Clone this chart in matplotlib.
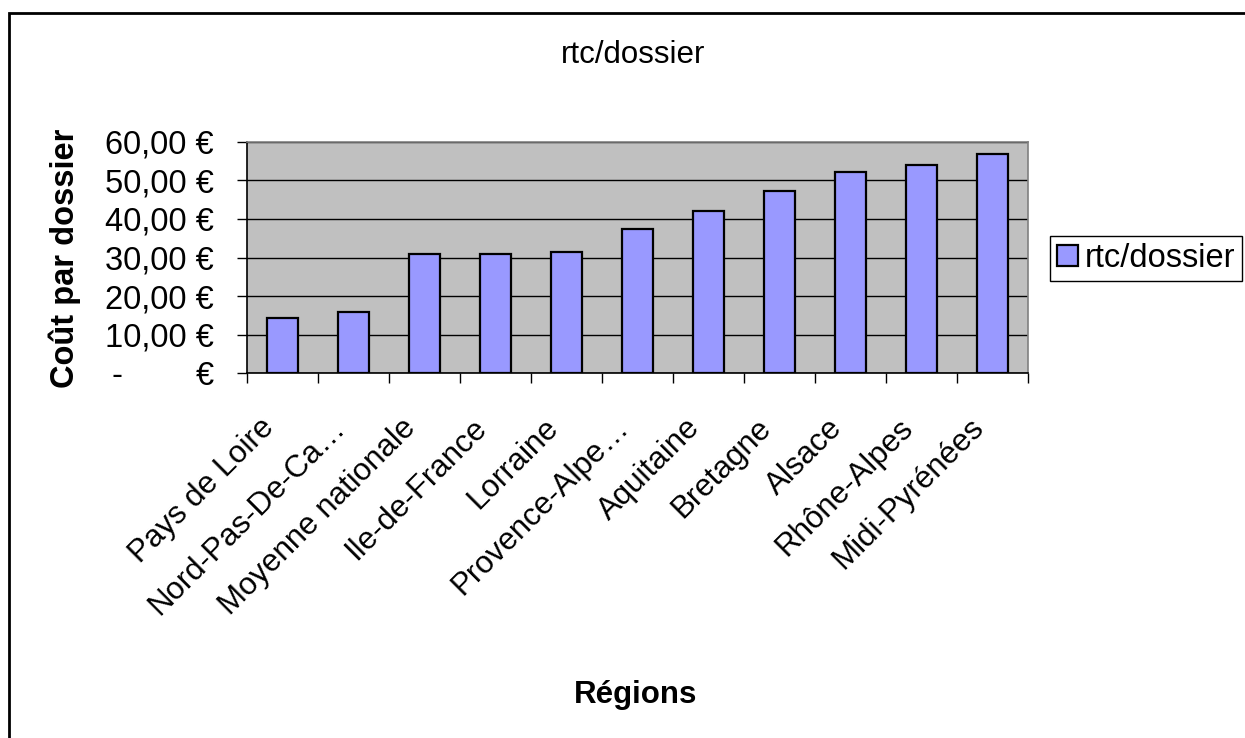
import matplotlib
matplotlib.use("Agg")
import matplotlib.pyplot as plt
from matplotlib.patches import Rectangle
from matplotlib.ticker import FixedLocator
from matplotlib.transforms import ScaledTranslation

plt.rcParams['font.family'] = ['Liberation Sans', 'DejaVu Sans']

# Data
regions = ["Pays de Loire", "Nord-Pas-De-Ca…", "Moyenne nationale", "Ile-de-France",
           "Lorraine", "Provence-Alpe…", "Aquitaine", "Bretagne", "Alsace",
           "Rhône-Alpes", "Midi-Pyrénées"]
cout_dossier = [14.4, 16.0, 31.0, 31.0, 31.5, 37.3, 42.0, 47.2, 52.2, 53.9, 56.9]
y_ticks = [0, 10, 20, 30, 40, 50, 60]
y_tick_labels = ["-        €", "10,00 €", "20,00 €", "30,00 €", "40,00 €", "50,00 €", "60,00 €"]
series_name = "rtc/dossier"

W, H = 1245, 738
fig = plt.figure(figsize=(W / 100, H / 100), dpi=100)
fig.patch.set_facecolor("white")

ax = fig.add_axes([246.7 / W, 1 - 373.3 / H, (1028.3 - 246.7) / W, (373.3 - 141.7) / H])
ax.set_facecolor("#C0C0C0")

x = list(range(len(regions)))
ax.bar(x, cout_dossier, width=0.43, color="#9999FF", edgecolor="black",
       linewidth=1.6, label=series_name, zorder=3)

ax.set_xlim(-0.5, len(regions) - 0.5)
ax.set_ylim(0, 60)

# Gridlines
ax.yaxis.grid(True, color="black", linewidth=1.0, zorder=1)
ax.set_axisbelow(True)

# Y axis
ax.set_yticks(y_ticks)
ax.set_yticklabels(y_tick_labels, fontsize=23.5)
ax.tick_params(axis="y", direction="out", length=7.5, width=1.0, pad=16, colors="black")

# X axis: labels at centres, tick marks at category boundaries
ax.set_xticks(x)
ax.set_xticklabels(regions, fontsize=22.5, rotation=45, ha="right", va="center",
                   rotation_mode="anchor")
ax.tick_params(axis="x", which="major", length=0, pad=36)
shift = ScaledTranslation(-13 / 100, 0, fig.dpi_scale_trans)
for lbl in ax.get_xticklabels():
    lbl.set_transform(lbl.get_transform() + shift)
ax.xaxis.set_minor_locator(FixedLocator([i - 0.5 for i in range(len(regions) + 1)]))
ax.tick_params(axis="x", which="minor", direction="out", length=7.5, width=1.0, colors="black")

for side in ("left", "bottom"):
    ax.spines[side].set_color("black")
    ax.spines[side].set_linewidth(1.2)
for side in ("top", "right"):
    ax.spines[side].set_color("#808080")
    ax.spines[side].set_linewidth(1.2)

# Titles
fig.text(633 / W, 1 - 55 / H, "rtc/dossier", fontsize=22.5, ha="center", va="center")
fig.text(65 / W, 1 - 258 / H, "Coût par dossier", fontsize=23.5, fontweight="bold",
         rotation=90, ha="center", va="center")
fig.text(636 / W, 1 - 695 / H, "Régions", fontsize=22.5, fontweight="bold",
         ha="center", va="center")

# Legend
leg = ax.legend(loc="center left", bbox_to_anchor=(1050 / W, 1 - 258.5 / H),
                bbox_transform=fig.transFigure, fontsize=23.5, frameon=True,
                fancybox=False, edgecolor="black", framealpha=1,
                handlelength=0.65, handleheight=0.65, handletextpad=0.18,
                borderpad=0.22, borderaxespad=0)
leg.get_frame().set_linewidth(1.0)

# Chart border
fig.add_artist(Rectangle((8.5 / W, -0.1), 1.2, 1 - 13.5 / H + 0.1,
                         transform=fig.transFigure, fill=False,
                         edgecolor="black", linewidth=2.0, clip_on=False))

fig.savefig("out.png", dpi=100, facecolor="white")
